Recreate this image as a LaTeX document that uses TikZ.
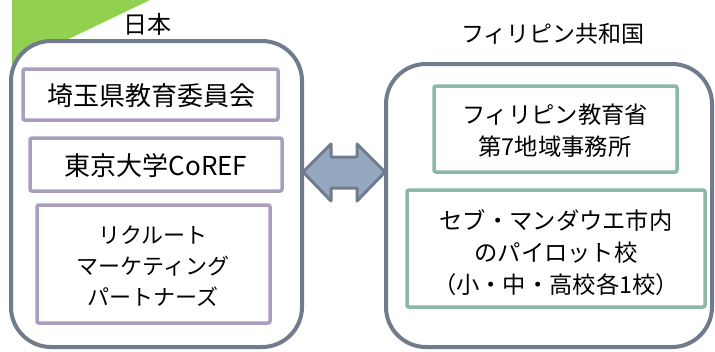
\documentclass[tikz,border=0pt]{standalone}
\usepackage{fontspec}
\setmainfont{Noto Sans CJK JP}
\definecolor{leafgreen}{RGB}{146,208,80}
\definecolor{slateline}{RGB}{112,124,140}
\definecolor{lilac}{RGB}{170,158,190}
\definecolor{sage}{RGB}{140,184,168}
\definecolor{arrowfill}{RGB}{150,168,192}
\tikzset{
  bigbox/.style={draw=slateline, line width=4pt, fill=white, rounded corners=40pt},
  jpbox/.style={draw=lilac, line width=3.5pt, rounded corners=2pt},
  phbox/.style={draw=sage, line width=3.5pt, rounded corners=2pt},
  txt/.style={font=\fontsize{22}{31}\selectfont, align=center, inner sep=0pt},
  bigtxt/.style={font=\fontsize{26}{31}\selectfont, align=center, inner sep=0pt},
  phtxt/.style={font=\fontsize{23.3}{32}\selectfont, align=center, inner sep=0pt},
  ttl/.style={font=\fontsize{24}{26}\selectfont, inner sep=0pt},
  ttlb/.style={font=\fontsize{23}{26}\selectfont, inner sep=0pt}
}
\begin{document}
\begin{tikzpicture}[x=1pt,y=-1pt]
\useasboundingbox (0,0) rectangle (715,351);
\fill[leafgreen] (12,0) -- (150,0) -- (12,66) -- cycle;
\draw[bigbox] (11,41) rectangle (302,347);
\draw[bigbox] (386,64) rectangle (712,347);
\node[ttl] (jp) at (147,24) {日本};
\node[ttlb] (ph) at (553,34) {フィリピン共和国};
\draw[jpbox] (23,69) rectangle (278,120);
\node[bigtxt] (a) at (151,96) {埼玉県教育委員会};
\draw[jpbox] (30,138) rectangle (282,191);
\node[bigtxt] (b) at (156,166) {東京大学CoREF};
\draw[jpbox] (37,205) rectangle (270,323);
\node[txt] (c) at (153,266) {リクルート\\マーケティング\\パートナーズ};
\draw[phbox] (434,86) rectangle (677,172);
\node[phtxt] (d) at (555,131) {フィリピン教育省\\第7地域事務所};
\draw[phbox] (407,190) rectangle (705,307);
\node[phtxt] (e) at (556,253) {セブ・マンダウエ市内\\のパイロット校\\（小・中・高校各1校）};
\coordinate (L) at (303,172);
\coordinate (R) at (385,172);
\draw[fill=arrowfill, draw=slateline, line width=3pt, line join=round]
  (L) -- (331,144) -- (331,157) -- (357,157) -- (357,144) -- (R)
  -- (357,201) -- (357,188) -- (331,188) -- (331,201) -- cycle;
\end{tikzpicture}
\end{document}
